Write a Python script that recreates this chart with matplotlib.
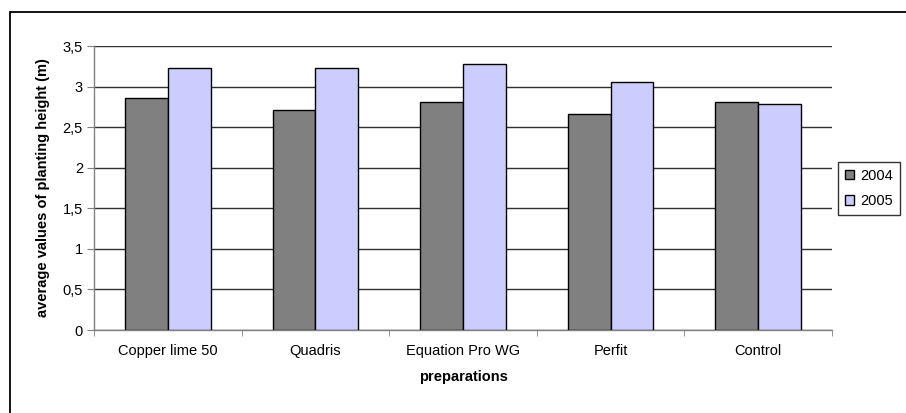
import matplotlib
matplotlib.use("Agg")
import matplotlib.pyplot as plt
import numpy as np
from matplotlib.patches import Rectangle

# data
preparations = ["Copper lime 50", "Quadris", "Equation Pro WG", "Perfit", "Control"]
height_2004 = [2.86, 2.71, 2.81, 2.66, 2.81]
height_2005 = [3.23, 3.23, 3.28, 3.06, 2.79]
yticks = [0, 0.5, 1, 1.5, 2, 2.5, 3, 3.5]
ytick_labels = ["0", "0,5", "1", "1,5", "2", "2,5", "3", "3,5"]

plt.rcParams["font.family"] = ["Liberation Sans", "DejaVu Sans"]
plt.rcParams["font.size"] = 10.5

fig = plt.figure(figsize=(9.06, 4.13), dpi=100)
fig.patch.set_facecolor("white")

# chart frame (runs off the right/bottom edge like the original)
fig.patches.append(
    Rectangle((10 / 906, -0.1), 1.1, 1.1 - 12 / 413,
              transform=fig.transFigure, fill=False, edgecolor="black", lw=1.3)
)

ax = fig.add_axes([94 / 906, 1 - 330 / 413, (832 - 94) / 906, (330 - 46) / 413])

x = np.arange(len(preparations))
w = 0.29
ax.bar(x - w / 2, height_2004, w, color="#808080", edgecolor="black", lw=1, label="2004", zorder=3)
ax.bar(x + w / 2, height_2005, w, color="#CCCCFF", edgecolor="black", lw=1, label="2005", zorder=3)

ax.set_xlim(-0.5, len(preparations) - 0.5)
ax.set_ylim(0, 3.5)
ax.set_yticks(yticks)
ax.set_yticklabels(ytick_labels)
ax.yaxis.grid(True, color="#303030", lw=1, zorder=0)

ax.set_xticks(x)
ax.set_xticklabels(preparations)
ax.set_xticks(np.arange(-0.5, len(preparations)), minor=True)
ax.tick_params(axis="x", which="major", length=0, pad=10)
ax.tick_params(axis="x", which="minor", length=4, color="#808080", direction="out")
ax.tick_params(axis="y", length=5, color="#808080", pad=3)

for side in ["top", "right"]:
    ax.spines[side].set_visible(False)
for side in ["left", "bottom"]:
    ax.spines[side].set_color("#808080")
    ax.spines[side].set_linewidth(1)

ax.set_xlabel("preparations", fontweight="bold", labelpad=9)
ax.set_ylabel("average values of planting height (m)", fontweight="bold", labelpad=9)

leg = fig.legend(
    loc="upper left",
    bbox_to_anchor=(838 / 906, 1 - 162 / 413),
    frameon=True,
    fancybox=False,
    edgecolor="black",
    handlelength=0.65,
    handleheight=0.65,
    handletextpad=0.45,
    borderpad=0.45,
    borderaxespad=0,
    labelspacing=0.8,
)
leg.get_frame().set_linewidth(1)

fig.savefig("out.png", dpi=100)
